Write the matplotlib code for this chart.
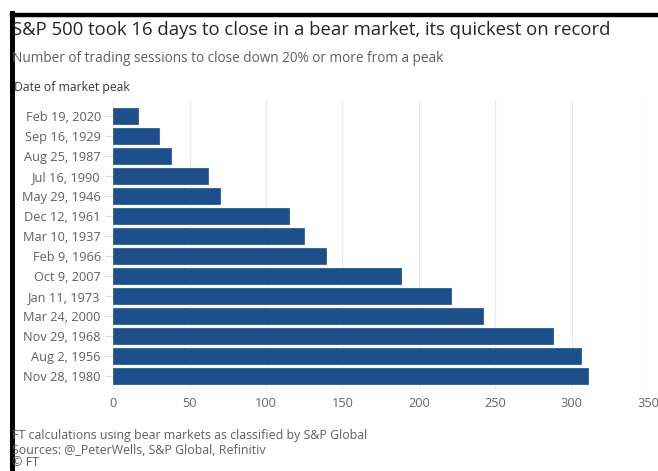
import matplotlib
matplotlib.use("Agg")
import matplotlib.pyplot as plt
from matplotlib.lines import Line2D

# Date of market peak and trading sessions needed to close 20% below it
peak_dates = [
    "Feb 19, 2020", "Sep 16, 1929", "Aug 25, 1987", "Jul 16, 1990",
    "May 29, 1946", "Dec 12, 1961", "Mar 10, 1937", "Feb 9, 1966",
    "Oct 9, 2007", "Jan 11, 1973", "Mar 24, 2000", "Nov 29, 1968",
    "Aug 2, 1956", "Nov 28, 1980",
]
sessions = [16, 30, 38, 62, 70, 115, 125, 139, 188, 221, 242, 288, 306, 311]
x_ticks = [0, 50, 100, 150, 200, 250, 300, 350]

plt.rcParams["font.family"] = ["Open Sans", "DejaVu Sans"]

W, H = 658, 471
fig = plt.figure(figsize=(W / 100, H / 100), dpi=100)
fig.patch.set_facecolor("white")

def fx(px):
    return px / W

def fy(py):
    return 1 - py / H

ax_left, ax_right = 113.3, 648.0
ax_top, ax_bottom = 101.0, 390.0
ax = fig.add_axes([fx(ax_left), fy(ax_bottom), fx(ax_right) - fx(ax_left),
                   (ax_bottom - ax_top) / H])

ypos = list(range(len(peak_dates)))
ax.barh(ypos, sessions, height=0.82, color="#1d4f8b", edgecolor="#2a5d98",
        linewidth=0.6, zorder=3)
ax.set_ylim(13.7, -0.75)
ax.set_xlim(0, 350)
ax.set_xticks(x_ticks)
ax.set_xticklabels([str(t) for t in x_ticks], fontsize=9.2, color="#666666")
ax.set_yticks(ypos)
ax.set_yticklabels(peak_dates, fontsize=9.2, color="#5f5f5f")
ax.tick_params(axis="x", length=0, pad=5)
ax.tick_params(axis="y", length=6, color="#dcdcdc", width=0.8, pad=3)
ax.grid(axis="x", color="#ebebeb", linewidth=0.9, zorder=0)
for s in ax.spines.values():
    s.set_visible(False)

# Headline, subtitle and axis caption
fig.text(fx(12), fy(30), "S&P 500 took 16 days to close in a bear market, its quickest on record",
         fontsize=13.3, color="#262626", va="center", ha="left")
fig.text(fx(12), fy(58), "Number of trading sessions to close down 20% or more from a peak",
         fontsize=9.8, color="#5f5f5f", va="center", ha="left")
fig.text(fx(14), fy(87), "Date of market peak",
         fontsize=8.8, color="#3a3a3a", va="center", ha="left")

# Footnotes
foot_size = 8.9
fig.text(fx(12), fy(436), "FT calculations using bear markets as classified by S&P Global",
         fontsize=foot_size, color="#5f5f5f", va="center", ha="left")
fig.text(fx(12), fy(450), "Sources: @_PeterWells, S&P Global, Refinitiv",
         fontsize=foot_size, color="#5f5f5f", va="center", ha="left")
fig.text(fx(12), fy(463), "\u00a9 FT",
         fontsize=foot_size, color="#5f5f5f", va="center", ha="left")

# Dark frame along the top and left edges
fig.add_artist(Line2D([fx(12), fx(658)], [fy(14.5), fy(14.5)], color="black",
                      linewidth=3.2, transform=fig.transFigure))
fig.add_artist(Line2D([fx(12), fx(12)], [fy(13), fy(471)], color="black",
                      linewidth=3.6, transform=fig.transFigure))

fig.savefig("out.png", dpi=100, facecolor="white")
